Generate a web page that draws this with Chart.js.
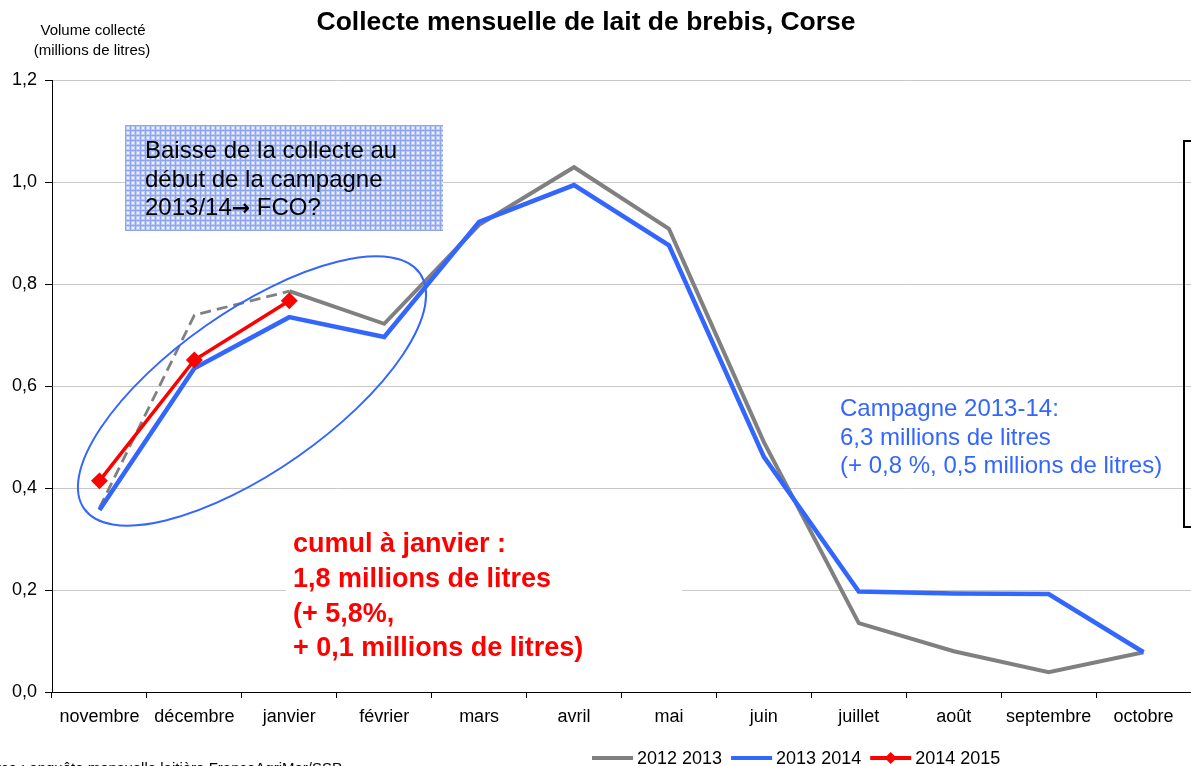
<!DOCTYPE html>
<html><head><meta charset="utf-8">
<script src="https://cdn.jsdelivr.net/npm/chart.js@4.4.1/dist/chart.umd.min.js"></script>
<style>html,body{margin:0;padding:0;background:#fff;overflow:hidden}</style>
</head><body>
<canvas id="c" width="1191" height="766"></canvas>
<script>
// ---- data ----
const categories = ['novembre','décembre','janvier','février','mars','avril','mai','juin','juillet','août','septembre','octobre'];
const seriesNames = ['2012 2013','2013 2014','2014 2015'];
const values2012_2013 = [0.361, 0.739, 0.786, 0.722, 0.916, 1.029, 0.908, 0.490, 0.135, 0.080, 0.039, 0.078];
const values2013_2014 = [0.357, 0.635, 0.735, 0.696, 0.922, 0.994, 0.876, 0.461, 0.197, 0.193, 0.192, 0.078];
const values2014_2015 = [0.414, 0.651, 0.767, null, null, null, null, null, null, null, null, null];
const yMin = 0, yMax = 1.2, yStep = 0.2;

const titleText = 'Collecte mensuelle de lait de brebis, Corse';
const yTitleLines = ['Volume collecté', '(millions de litres)'];
const boxLines = ['Baisse de la collecte au', 'début de la campagne'];
const boxLast = ['2013/14', '\u2192', ' FCO?'];
const redLines = ['cumul à janvier :', '1,8 millions de litres', '(+ 5,8%,', '+ 0,1 millions de litres)'];
const blueLines = ['Campagne 2013-14:', '6,3 millions de litres', '(+ 0,8 %, 0,5 millions de litres)'];
const sourceText = 'Source : enquête mensuelle laitière FranceAgriMer/SSP';

const FONT = '"Liberation Sans", Arial, Helvetica, sans-serif';
const GREY = '#808080', BLUE = '#3366FF', RED = '#FF0000';

function makePattern(ctx){
  const p = document.createElement('canvas');
  p.width = 5; p.height = 5;
  const g = p.getContext('2d');
  g.fillStyle = '#bccaf6'; g.fillRect(0,0,5,5);
  g.fillStyle = '#8ea4ee'; g.fillRect(0,0,5,1); g.fillRect(0,0,1,5);
  g.fillStyle = '#eef2ff'; g.fillRect(2,2,2,2);
  return ctx.createPattern(p, 'repeat');
}

const deco = {
  id: 'deco',
  beforeDraw(chart){
    const c = chart.ctx;
    c.save(); c.fillStyle = '#fff'; c.fillRect(0,0,chart.width,chart.height); c.restore();
  },
  afterDraw(chart){
    const c = chart.ctx;
    c.save();
    // title
    c.fillStyle = '#000';
    c.font = 'bold 26.5px ' + FONT;
    c.textAlign = 'center'; c.textBaseline = 'alphabetic';
    c.fillText(titleText, 586, 30);
    // y title
    c.font = '15px ' + FONT;
    c.fillText(yTitleLines[0], 93, 35);
    c.fillText(yTitleLines[1], 92, 55);
    // patterned box
    c.fillStyle = makePattern(c);
    c.fillRect(125, 125, 318, 106);
    c.fillStyle = '#000';
    c.font = '24px ' + FONT;
    c.textAlign = 'left';
    boxLines.forEach((t,i) => c.fillText(t, 145, 158 + i*28.5));
    let bx = 145; const by = 158 + 2*28.5;
    c.fillText(boxLast[0], bx, by); bx += c.measureText(boxLast[0]).width;
    c.font = 'bold 22px "DejaVu Sans", sans-serif';
    c.fillText(boxLast[1], bx, by); bx += c.measureText(boxLast[1]).width;
    c.font = '24px ' + FONT;
    c.fillText(boxLast[2], bx, by);
    // ellipse
    c.strokeStyle = BLUE; c.lineWidth = 2;
    c.beginPath();
    c.ellipse(252, 391, 205, 80, -35*Math.PI/180, 0, Math.PI*2);
    c.stroke();
    // red text with white background
    c.fillStyle = '#fff';
    c.fillRect(286, 528, 396, 140);
    c.fillStyle = RED;
    c.font = 'bold 27px ' + FONT;
    redLines.forEach((t,i) => c.fillText(t, 293, 552 + i*34.8));
    // blue text
    c.fillStyle = BLUE;
    c.font = '24px ' + FONT;
    blueLines.forEach((t,i) => c.fillText(t, 840, 416 + i*28.5));
    // bracket box at right
    c.strokeStyle = '#000'; c.lineWidth = 2;
    c.strokeRect(1184, 141, 30, 386);
    // source
    c.fillStyle = '#000';
    c.font = '15px ' + FONT;
    c.textAlign = 'right'; c.textBaseline = 'top';
    c.fillText(sourceText, 342, 761);
    // legend
    const colors = [GREY, BLUE, RED];
    c.font = '18px ' + FONT;
    c.textAlign = 'left'; c.textBaseline = 'middle';
    let x = 592; const y = 758;
    seriesNames.forEach((name, i) => {
      c.strokeStyle = colors[i]; c.lineWidth = 4; c.lineCap = 'butt';
      c.beginPath(); c.moveTo(x, y); c.lineTo(x + 41, y); c.stroke();
      if (i === 2) {
        c.fillStyle = RED;
        c.beginPath();
        c.moveTo(x+20.5, y-6); c.lineTo(x+26.5, y); c.lineTo(x+20.5, y+6); c.lineTo(x+14.5, y);
        c.closePath(); c.fill();
      }
      c.fillStyle = '#000';
      c.fillText(name, x + 45, y + 1);
      x += 45 + c.measureText(name).width + 9;
    });
    c.restore();
  }
};

const ctx = document.getElementById('c').getContext('2d');
new Chart(ctx, {
  type: 'line',
  data: {
    labels: categories,
    datasets: [
      {
        label: seriesNames[2], data: values2014_2015,
        borderColor: RED, backgroundColor: RED, borderWidth: 3.5,
        pointStyle: 'rectRot', pointRadius: 6, pointBackgroundColor: RED, pointBorderColor: RED,
        tension: 0, order: 1, spanGaps: false
      },
      {
        label: seriesNames[1], data: values2013_2014,
        borderColor: BLUE, backgroundColor: BLUE, borderWidth: 4.5,
        pointRadius: 0, tension: 0, order: 2
      },
      {
        label: seriesNames[0], data: values2012_2013,
        borderColor: GREY, backgroundColor: GREY, borderWidth: 4,
        pointRadius: 0, tension: 0, order: 3,
        segment: {
          borderDash: c => c.p1DataIndex <= 2 ? [11, 6] : undefined,
          borderWidth: c => c.p1DataIndex <= 2 ? 2.8 : undefined
        }
      }
    ]
  },
  options: {
    responsive: false,
    animation: false,
    events: [],
    layout: { autoPadding: false, padding: { top: 80, left: 0, right: 0, bottom: 34 } },
    plugins: { legend: { display: false }, tooltip: { enabled: false }, title: { display: false } },
    scales: {
      x: {
        offset: true,
        grid: { display: true, drawOnChartArea: false, drawTicks: true, tickLength: 6, tickColor: '#000', offset: true },
        border: { display: true, color: '#000', width: 1 },
        ticks: { color: '#000', font: { family: FONT, size: 18 }, padding: 8, autoSkip: false, maxRotation: 0 },
        afterFit: s => { s.height = 40; s.paddingLeft = 0; s.paddingRight = 0; }
      },
      y: {
        min: yMin, max: yMax,
        grid: { color: '#c8c8c8', lineWidth: 1, drawTicks: true, tickLength: 7, tickColor: '#000' },
        border: { display: true, color: '#000', width: 1 },
        ticks: {
          stepSize: yStep, color: '#000', font: { family: FONT, size: 18 }, padding: 8,
          callback: v => Number(v).toFixed(1).replace('.', ',')
        },
        afterFit: s => { s.width = 52; s.paddingTop = 0; s.paddingBottom = 0; }
      }
    }
  },
  plugins: [deco]
});
</script>
</body></html>
